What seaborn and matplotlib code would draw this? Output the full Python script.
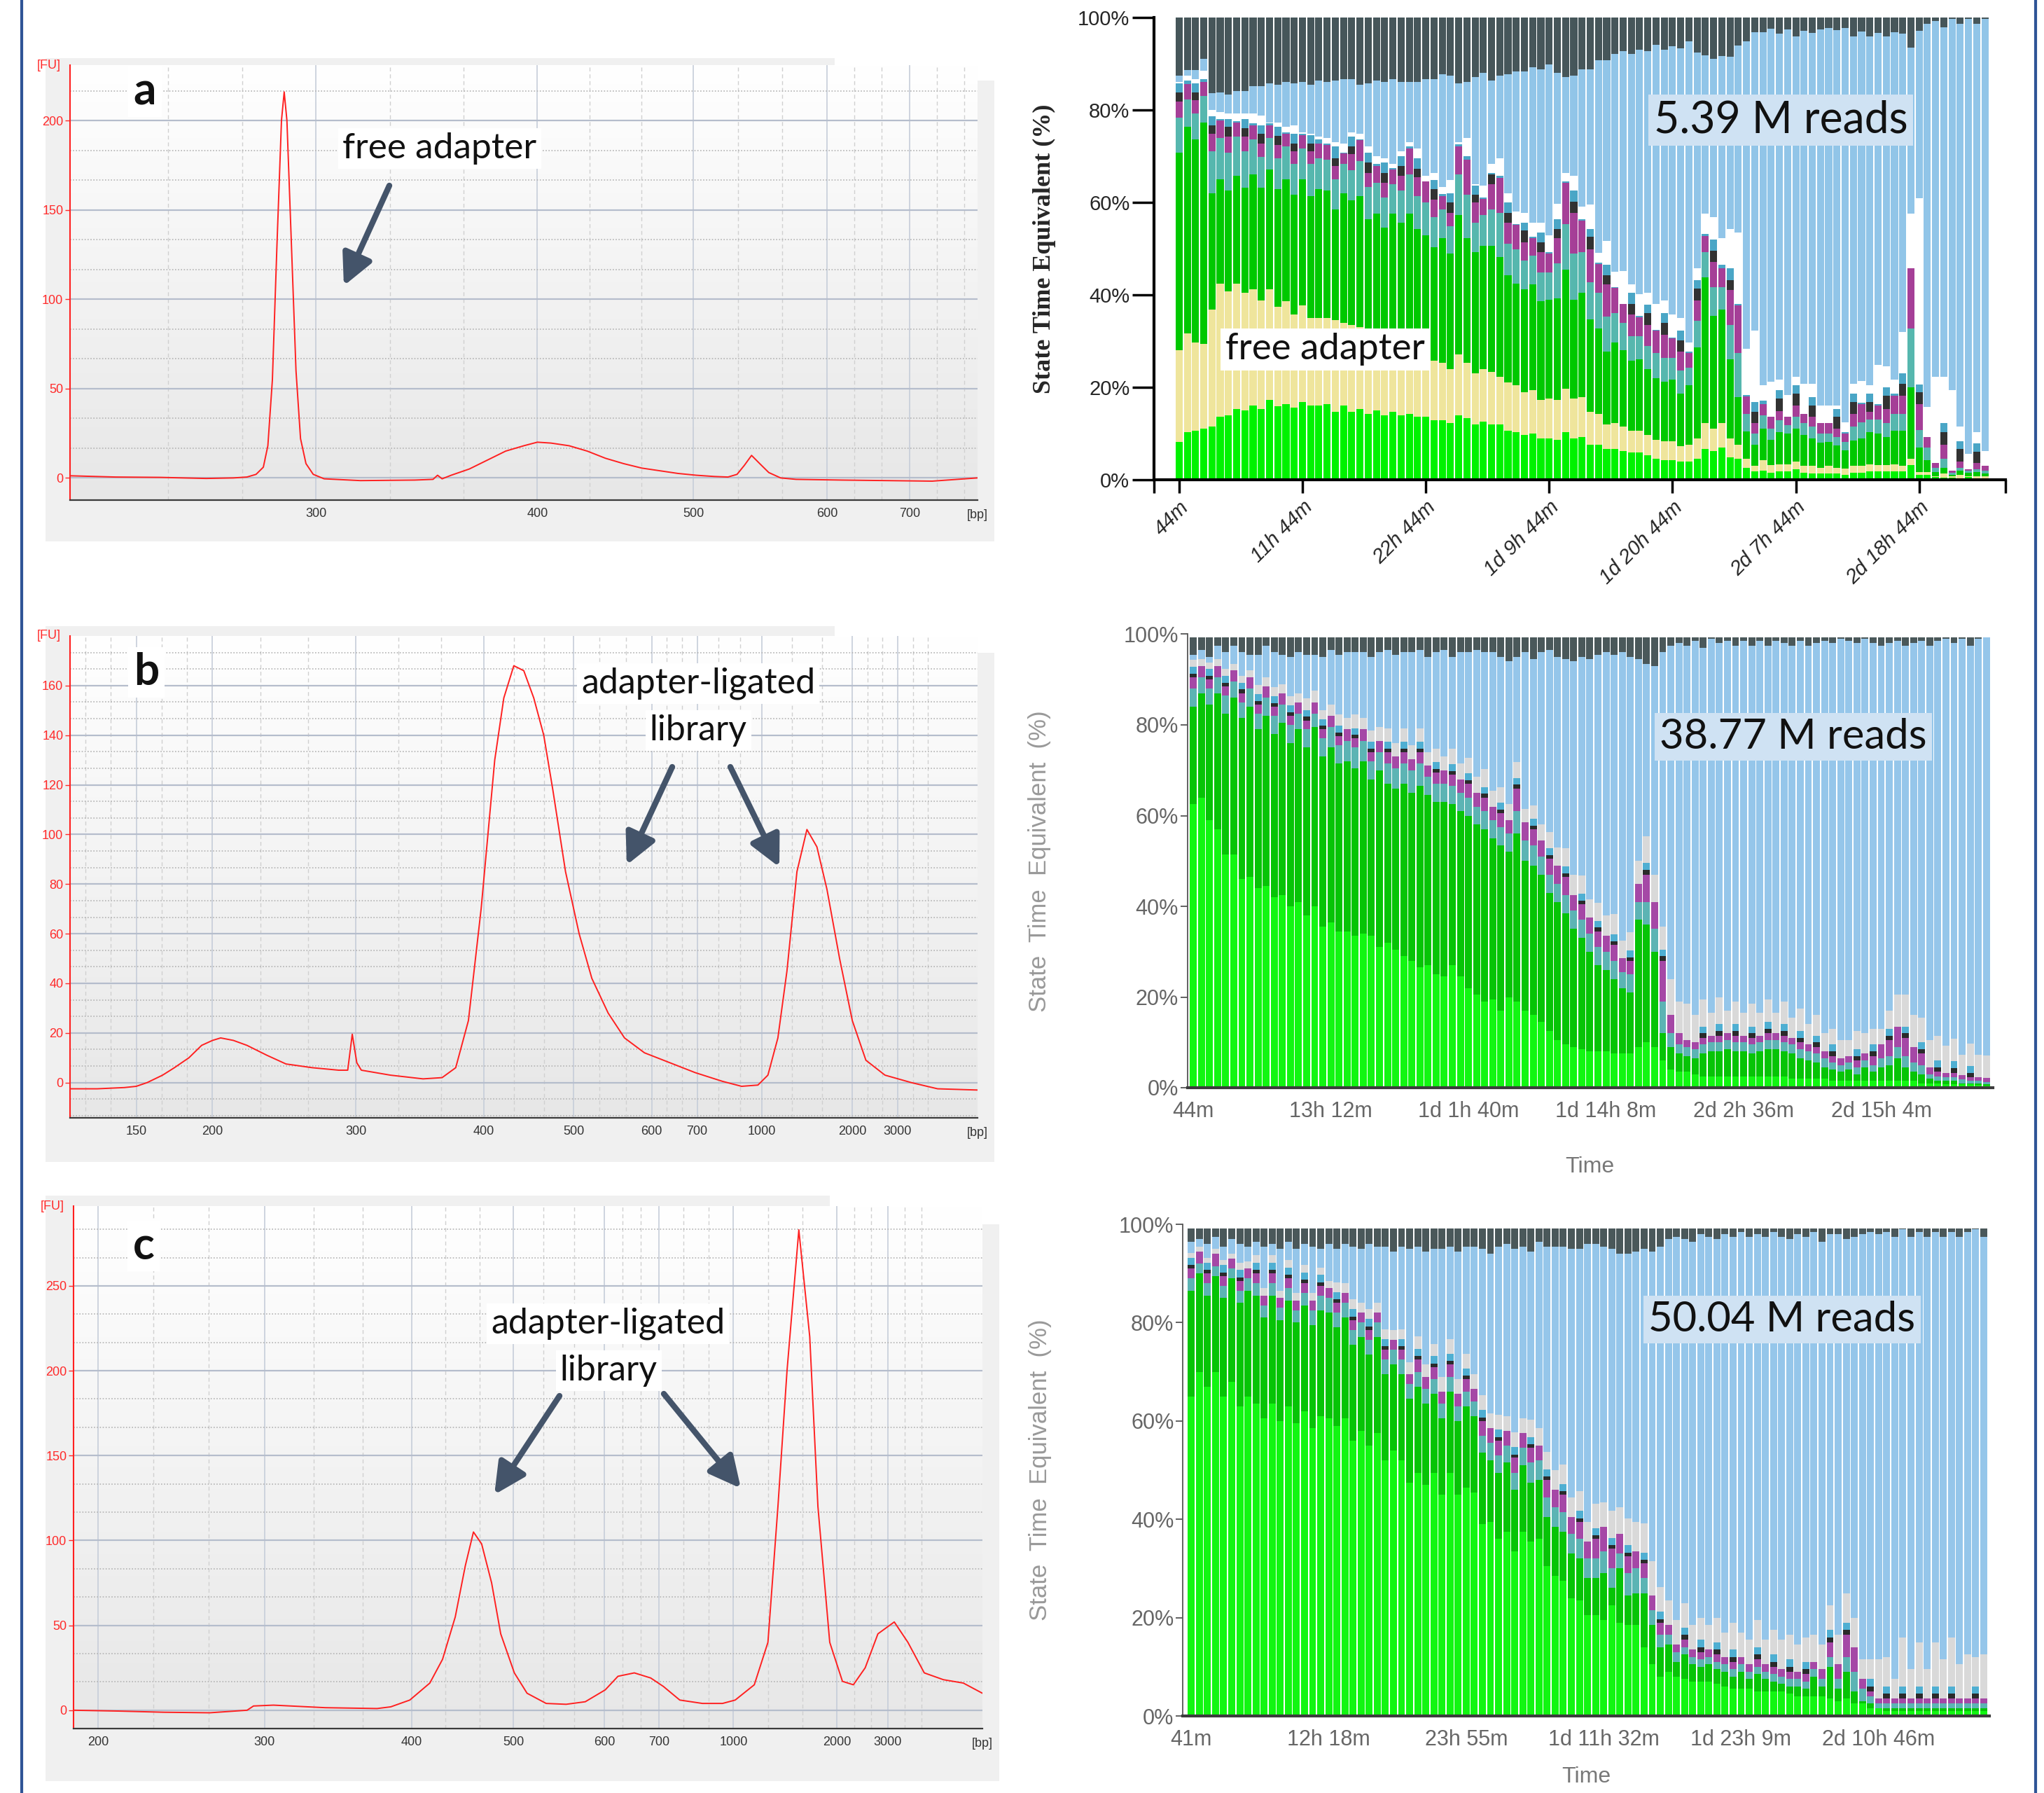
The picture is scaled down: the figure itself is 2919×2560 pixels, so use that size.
import matplotlib
matplotlib.use("Agg")
import matplotlib.pyplot as plt
import numpy as np
import seaborn as sns
from matplotlib import font_manager
from matplotlib.colors import LinearSegmentedColormap
from matplotlib.lines import Line2D
from matplotlib.patches import Rectangle

# ---------------- Bioanalyzer traces (x = migration position 0-100, ladder gives bp) ----------------
a_ladder_bp = [300, 400, 500, 600, 700]
a_ladder_t = [27.1, 51.5, 68.7, 83.4, 92.5]
a_t = [0, 5, 10, 15, 18, 19.5, 20.5, 21.3, 21.8, 22.3, 22.8, 23.3, 23.6, 23.9, 24.4, 24.9, 25.4, 26.0, 26.8, 28.0,
       32, 38, 40, 40.5, 41, 42, 44, 46, 48, 50, 51.5, 53, 55, 57, 59, 61, 63, 65, 67, 69,
       71, 72.5, 73.5, 74.3, 75.1, 76, 77, 78.3, 80, 85, 90, 95, 100]
a_fu = [1.2, 0.5, 0.3, -0.3, 0, 0.5, 2, 6, 18, 55, 130, 200, 216, 200, 130, 60, 22, 8, 2, -0.5,
        -1.5, -1.2, -0.8, 1.5, -0.5, 1.5, 5, 10, 15, 18, 20, 19.5, 18, 15, 11, 8, 5.5, 4, 2.5, 1.5,
        0.8, 0.5, 2, 7, 12.6, 8, 3, 0, -0.8, -1.2, -1.5, -1.8, 0]

b_ladder_bp = [150, 200, 300, 400, 500, 600, 700, 1000, 2000, 3000]
b_ladder_t = [7.3, 15.7, 31.5, 45.6, 55.5, 64.1, 69.1, 76.2, 86.2, 91.2]
b_t = [0, 3, 6, 7.3, 8.5, 10.2, 11.5, 13.1, 14.5, 15.7, 16.6, 18, 19.5, 21.7, 23.8, 26.7, 29.6, 30.6, 31.1, 31.6,
       32.1, 35.3, 38.9, 41, 42.5, 43.9, 45.3, 46.8, 47.8, 48.9, 50, 51.1, 52.2, 53.2, 54.6, 56.1, 57.5, 59.3, 61.1, 63.3,
       66.1, 68.9, 71.9, 74, 75.8, 76.9, 78, 79, 80.1, 81.2, 82.3, 83.4, 84.8, 86.2, 87.7, 89.8, 92.7, 95.6, 100]
b_fu = [-2.5, -2.5, -2, -1.5, 0, 3, 6, 10, 15, 17, 18, 17, 15, 11, 7.5, 6, 5, 5, 19.5, 8,
        5, 3, 1.5, 2, 6, 25, 70, 130, 155, 168, 166, 155, 140, 118, 85, 60, 42, 28, 18, 12,
        8, 4, 0.5, -1.5, -1, 3, 18, 45, 85, 102, 95, 78, 50, 25, 9, 3, 0, -2.5, -3]

c_ladder_bp = [200, 300, 400, 500, 600, 700, 1000, 2000, 3000]
c_ladder_t = [2.7, 21.0, 37.2, 48.4, 58.4, 64.4, 72.6, 84.0, 89.6]
c_t = [0, 5, 10, 15, 19.1, 19.8, 22, 27.7, 33.4, 34.9, 37, 39.2, 40.6, 42, 43.1, 44, 44.9, 46, 47, 48.5,
       49.9, 52, 54.2, 56.3, 58.5, 59.9, 61.7, 63.5, 64.9, 66.7, 69.2, 71.4, 72.8, 74.9, 76.4, 77.5, 78.5, 79.8, 81, 81.9,
       83.2, 84.6, 85.8, 87.1, 88.5, 90.3, 91.8, 93.6, 95.7, 97.9, 100]
c_fu = [0, -0.5, -1.2, -1.5, 0, 2.5, 3, 1.5, 1, 2, 6, 16, 30, 55, 85, 105, 98, 75, 45, 22,
        10, 4, 3.5, 5, 12, 20, 22, 19, 14, 6, 4, 4, 6, 15, 40, 120, 200, 283, 220, 120,
        40, 17, 15, 25, 45, 52, 40, 22, 18, 16, 10]

# ---------------- Panel a, right: pore state shares (%), cumulative layer tops ----------------
a_bg = [8.2, 10.3, 10.6, 11.0, 11.5, 13.6, 13.9, 15.3, 15.0, 16.0, 15.3, 17.2, 15.9, 16.3, 15.6, 16.8, 16.0, 16.0, 16.3, 14.7,
        16.0, 14.7, 15.3, 14.3, 15.0, 14.0, 14.7, 14.0, 14.3, 13.7, 13.7, 12.9, 12.9, 12.3, 13.9, 13.3, 12.0, 12.6, 12.0, 12.0,
        10.6, 10.3, 9.7, 10.0, 9.0, 9.0, 8.7, 10.3, 9.0,
        9.3, 7.6, 7.6, 6.6, 6.6, 6.2, 5.9, 5.9, 5.3, 4.6, 4.3, 4.3, 3.9, 3.9, 4.6, 6.6, 6.2, 6.9, 4.9, 4.6,
        2.6, 1.8, 2.0, 1.5, 1.8, 1.8, 2.2, 1.5, 1.3, 1.3, 1.3, 1.3, 1.1, 1.5, 1.5, 1.8, 1.8, 1.8, 1.8, 1.8,
        3.2, 1.0, 1.0, 0.6, 0.5, 0.5, 0.3, 0.6, 0.3, 0.3]
a_adapter = [28.1, 31.7, 29.7, 29.4, 36.8, 42.5, 40.7, 42.5, 40.4, 41.2, 38.8, 41.2, 37.5, 38.6, 35.8, 37.8, 35.0, 35.0, 35.0, 34.5,
             34, 33.5, 33, 32, 31.5, 30.5, 30, 29, 28.5, 27.5, 26.1, 25.8, 25.3, 24.0, 27.1, 25.3, 23.0, 24.0, 23.3, 22.3,
             21.0, 20.4, 18.9, 19.4, 17.3, 17.6, 17.3, 19.7, 17.6,
             17.9, 14.7, 14.3, 12.0, 12.3, 11.5, 10.6, 10.6, 9.7, 8.7, 8.3, 8.3, 7.2, 7.6, 9.0, 12.3, 11.0, 12.3, 8.9, 7.6,
             4.6, 3.0, 4.3, 3.2, 3.3, 3.3, 3.9, 3.0, 3.0, 2.6, 3.0, 2.6, 2.4, 3.0, 3.0, 3.3, 3.2, 3.2, 3.3, 3.0,
             4.6, 1.6, 1.6, 0.8, 1.3, 0.7, 1.0, 0.7, 0.7, 0.7]
a_dg = [70.8, 76.3, 73.6, 77.3, 62.0, 65.0, 62.5, 65.7, 63.2, 66.0, 63.2, 67.1, 62.9, 65.0, 61.7, 65.0, 61.4, 62.9, 62.5, 58.5,
        62.0, 60.4, 61.4, 56.3, 57.6, 54.6, 57.5, 55.6, 57.5, 54.3, 52.9, 50.3, 52.2, 48.9, 57.2, 52.2, 49.2, 50.6, 50.6, 48.2,
        44.2, 42.5, 41.2, 42.2, 38.6, 38.9, 39.2, 45.5, 38.9,
        40.4, 34.7, 32.7, 27.8, 29.7, 28.1, 25.8, 26.0, 23.9, 22.0, 21.2, 21.7, 18.6, 20.4, 28.7, 43.8, 35.5, 36.8, 26.1, 17.9,
        10.5, 7.6, 11.0, 8.7, 10.3, 10.0, 11.0, 9.7, 9.0, 8.0, 8.2, 7.4, 6.4, 8.5, 8.9, 10.3, 10.0, 9.3, 10.6, 10.6,
        20.0, 6.9, 4.3, 1.6, 2.6, 1.1, 2.0, 1.5, 1.6, 1.3]
a_teal = [78.4, 82.3, 79.2, 83.1, 71.1, 73.9, 70.7, 74.3, 71.0, 73.6, 69.9, 73.9, 69.6, 72.1, 68.3, 71.7, 68.3, 69.6, 69.3, 65.0,
          68.3, 67.0, 68.9, 63.3, 64.3, 61.0, 63.9, 62.5, 66.0, 61.4, 60.0, 56.8, 58.5, 54.9, 66.0, 61.7, 55.6, 57.2, 58.5, 57.8,
          51.0, 49.9, 47.5, 48.5, 44.9, 44.9, 46.8, 55.3, 48.9,
          49.2, 42.8, 40.4, 35.3, 36.1, 34.0, 31.1, 31.1, 28.9, 27.4, 26.4, 26.4, 23.7, 24.3, 34.4, 49.2, 41.7, 41.7, 33.5, 27.4,
          14.3, 10.0, 13.9, 11.0, 12.9, 11.8, 13.6, 12.3, 11.5, 10.0, 10.0, 9.2, 8.2, 11.5, 12.5, 13.1, 13.1, 12.3, 14.3, 14.3,
          32.7, 10.8, 6.9, 2.6, 4.6, 1.5, 2.6, 2.0, 2.3, 2.0]
a_mag = [81.8, 85.6, 82.1, 86.1, 74.9, 77.7, 74.3, 77.3, 74.3, 76.7, 72.7, 76.7, 72.4, 74.9, 71.1, 74.6, 71.1, 72.7, 72.4, 67.9,
         70.6, 70.4, 73.5, 66.3, 67.9, 64.3, 67.1, 65.7, 71.7, 65.4, 64.6, 60.6, 61.4, 57.8, 72.1, 69.3, 60.0, 60.7, 63.9, 65.3,
         55.6, 55.1, 51.4, 52.2, 49.2, 48.9, 52.2, 64.3, 57.8,
         56.0, 49.9, 46.6, 42.2, 41.5, 38.1, 35.8, 35.2, 33.5, 32.2, 31.3, 30.6, 27.8, 27.4, 38.8, 52.8, 47.1, 45.8, 41.1, 37.8,
         18.1, 12.3, 16.4, 13.6, 14.9, 13.6, 16.1, 14.3, 13.6, 12.2, 12.2, 11.0, 10.0, 14.3, 16.3, 14.7, 16.1, 15.3, 18.2, 18.2,
         45.7, 16.3, 9.2, 3.6, 7.6, 2.0, 3.9, 2.3, 3.6, 3.0]
a_black = [83.8, 85.6, 83.8, 86.1, 76.7, 77.7, 76.3, 77.3, 76.1, 76.7, 74.9, 76.7, 74.4, 74.9, 72.7, 74.6, 72.7, 72.7, 72.4, 69.6,
           70.6, 72.1, 73.5, 68.7, 67.9, 66.3, 67.1, 67.9, 71.7, 67.3, 64.6, 62.9, 61.4, 60.0, 72.1, 69.3, 61.7, 60.7, 66.0, 65.3,
           57.8, 55.1, 53.9, 52.2, 51.4, 48.9, 54.2, 64.3, 60.2,
           56.0, 52.6, 46.6, 44.2, 41.5, 38.1, 38.1, 35.2, 36.1, 32.2, 34.0, 30.6, 30.2, 27.4, 41.4, 52.8, 49.5, 45.8, 43.2, 37.8,
           18.1, 14.7, 16.4, 13.6, 17.6, 13.6, 18.6, 14.3, 16.0, 12.2, 12.2, 13.6, 10.0, 16.8, 16.3, 16.8, 16.1, 18.2, 18.2, 20.7,
           45.7, 18.9, 9.2, 3.6, 10.3, 2.0, 6.6, 2.3, 6.1, 3.0]
a_cyan = [85.7, 86.4, 85.7, 86.7, 78.7, 78.1, 78.1, 77.6, 78.1, 77.1, 76.7, 77.1, 76.3, 75.2, 74.9, 74.9, 74.6, 73.6, 72.7, 72.1,
          70.8, 74.3, 73.6, 70.8, 68.3, 68.7, 67.4, 70.0, 72.1, 69.6, 64.6, 64.9, 61.8, 62.0, 72.5, 70.0, 63.6, 61.0, 66.4, 65.7,
          60.0, 55.3, 55.6, 52.6, 53.5, 49.2, 56.3, 64.6, 62.5,
          56.3, 54.3, 47.0, 46.5, 41.7, 38.1, 40.4, 35.5, 37.9, 32.5, 36.1, 30.7, 32.2, 27.8, 43.2, 53.2, 51.9, 46.5, 45.8, 38.1,
          18.4, 16.8, 17.1, 13.6, 19.4, 13.6, 20.4, 14.3, 17.9, 12.2, 12.2, 15.3, 10.3, 18.6, 16.6, 18.6, 16.4, 20.0, 18.6, 23.0,
          45.7, 20.6, 9.2, 3.6, 12.3, 2.0, 8.3, 2.3, 7.9, 3.0]
a_white = [86.1, 87.4, 86.7, 88.5, 80.0, 79.6, 79.3, 79.3, 79.3, 79.3, 78.8, 77.3, 77.3, 76.4, 76.7, 75.2, 74.9, 74.2, 73.9, 73.1,
           72.7, 75.2, 74.9, 72.1, 70.0, 69.6, 68.3, 71.0, 73.1, 71.7, 65.7, 66.4, 63.3, 64.9, 73.1, 73.9, 63.9, 63.6, 68.3, 69.6,
           62.0, 58.1, 57.8, 55.6, 55.6, 52.9, 59.7, 66.4, 65.7,
           59.1, 59.5, 49.1, 51.6, 45.0, 45.1, 42.2, 40.1, 40.4, 38.1, 38.8, 35.8, 35.0, 29.7, 45.8, 57.6, 56.8, 52.2, 54.3, 53.5,
           28.3, 32.2, 20.4, 21.2, 21.7, 18.4, 22.3, 20.7, 20.7, 16.1, 16.1, 16.1, 12.5, 20.7, 21.4, 20.4, 24.8, 24.6, 21.7, 31.9,
           57.6, 60.9, 15.8, 22.3, 22.3, 19.4, 11.5, 5.6, 10.3, 6.2]
a_lblue = [87.5, 88.7, 88.7, 91.0, 83.6, 83.8, 83.4, 84.1, 84.1, 85.1, 85.1, 85.7, 85.4, 86.1, 85.7, 86.1, 85.4, 86.4, 86.1, 86.4,
           86.7, 86.7, 85.4, 85.7, 86.4, 86.1, 86.7, 86.1, 86.1, 86.1, 86.7, 86.7, 87.7, 87.4, 85.7, 86.1, 87.1, 88.0, 86.4, 87.4,
           87.7, 88.4, 88.4, 89.2, 88.8, 89.8, 88.1, 87.1, 87.4,
           88.8, 88.8, 90.7, 90.7, 92.1, 92.8, 92.1, 93.1, 92.8, 94.1, 93.1, 93.8, 93.4, 94.9, 92.4, 91.8, 91.1, 91.7, 91.5, 94.0,
           94.9, 96.8, 96.8, 97.6, 96.5, 97.4, 95.9, 97.1, 96.6, 97.4, 97.7, 97.2, 97.8, 95.9, 96.9, 95.9, 96.7, 95.9, 96.8, 96.5,
           93.5, 97.1, 98.6, 99.2, 97.9, 99.7, 98.6, 99.7, 98.6, 99.7]
a_total = 100.0
a_tick_bars = [0, 15, 30, 45, 60, 75, 90]
a_tick_labels = ["44m", "11h 44m", "22h 44m", "1d 9h 44m", "1d 20h 44m", "2d 7h 44m", "2d 18h 44m"]

# ---------------- Panel b, right: main layer tops + small-layer thicknesses (%) ----------------
b_bg = [62.5, 64, 59, 57, 51.5, 51.5, 46, 46.5, 44, 44.5, 42, 42.5, 40, 41, 38, 40, 35.5, 36.5, 34.5, 34.5,
        33.5, 34, 33.5, 31, 32, 30.5, 29, 28, 26.5, 27, 25, 24.5, 27, 24.5, 22, 20.5, 19, 19.5, 17, 20,
        19, 17, 16, 14.5, 12.5, 10.5, 9.5, 9, 8.5, 8, 8, 8, 7.5, 7.5, 7.5, 9, 10, 9, 6, 4,
        3.5, 3.5, 3, 2.5, 2.5, 2.5, 2.5, 2.5, 2.5, 2.5, 2.5, 2.5, 2.5, 2.5, 2, 2, 2, 2, 2, 1.5,
        1.5, 1.5, 1.5, 1.5, 1.5, 1.5, 1.5, 1.5, 1.5, 1.5, 1, 1, 1, 0.8, 0.8, 0.8, 0.8, 0.6, 0.5]
b_dg = [84, 87, 84.5, 87, 82.5, 86, 81.5, 84, 79, 82, 78, 80.5, 76, 79, 75, 79.5, 73, 75, 71.5, 72,
        70.5, 72, 68, 70, 67, 66, 67, 65, 66.5, 64.5, 63, 63, 62.5, 61, 60, 58, 57, 55, 53.5, 52,
        56, 50, 49, 47, 43, 41, 38.5, 35, 33, 30, 27, 26, 24, 22, 21, 37, 36, 30, 12, 9,
        7.5, 7, 6.5, 7.5, 8, 8, 8.5, 8, 8, 7.5, 8, 8.5, 8.5, 8, 7.5, 6.5, 6, 5.5, 4.5, 4,
        3.5, 4, 3, 4.5, 3.5, 4.5, 5, 6.5, 4.5, 3.5, 3, 2, 1.5, 1.5, 1.5, 1, 1, 1, 0.8]
b_teal = [4, 3.5, 3.5, 3.5, 4, 3.5, 3.5, 4, 3.5, 4, 4, 4, 4, 3.5, 4, 3, 4, 4.5, 4, 4.5,
          4.5, 4.5, 4, 4, 4.5, 4.5, 4.5, 5, 5, 4, 4, 4, 4, 4, 4, 4, 4, 4, 4, 4,
          5, 4.5, 4.5, 4, 4, 4, 4, 4, 4, 4, 4, 4, 4, 3.5, 4, 4, 5, 5, 7, 3,
          2, 2, 2, 2, 2, 2, 2, 2, 2, 2, 2, 2, 2, 2, 2, 2, 2, 2, 2, 1.5,
          1.5, 1.5, 1.5, 1.5, 1.5, 2, 2, 2.5, 2.5, 2, 2, 1, 1, 0.8, 0.8, 0.8, 0.5, 0.5, 0.5]
b_mag = [2.5, 2.5, 2, 2.5, 2, 2.5, 2, 2.5, 2, 2.5, 2, 2.5, 2, 2.5, 2, 2.5, 2, 2.5, 2, 2.5,
         2, 2.5, 2, 2.5, 2.5, 2.5, 2.5, 2.5, 2.5, 2.5, 2.5, 3, 2.5, 3, 3, 3, 3, 3, 3, 3,
         5, 4, 3.5, 3.5, 3.5, 4, 4, 3.5, 3.5, 3.5, 3.5, 3.5, 3.5, 3, 3, 4, 6, 6, 9, 4,
         2.5, 1.5, 1.5, 1.5, 1.5, 1.5, 1.5, 1.5, 1.5, 1.5, 1.5, 1.5, 1.5, 1.5, 1.5, 1.5, 1.5, 1.5, 1.5, 1.5,
         1.5, 1.5, 1.5, 1.5, 2, 3, 3.5, 4.5, 4, 3.5, 2.5, 1.5, 1, 1, 1, 1, 0.8, 0.8, 0.8]
b_black = [0.8, 0, 0.8, 0, 0.8, 0, 0.8, 0, 0.8, 0, 0.8, 0, 0.8, 0, 0.8, 0, 0.8, 0, 0.8, 0,
           0.8, 0, 0.8, 0, 0.8, 0, 0.8, 0, 0.8, 0, 0.8, 0, 0.8, 0, 0.8, 0, 0.8, 0, 0.8, 0,
           0.8, 0, 0.8, 0, 0.8, 0, 0.8, 0, 0.8, 0, 0.8, 0, 0.8, 0, 0.8, 0, 1, 0, 1, 0,
           0, 0, 0, 1, 0, 1, 0, 1, 0, 1, 0, 1, 0, 1, 0, 1, 0, 1, 0, 1,
           0, 0, 1, 0, 1, 0, 1, 0, 1, 0, 1, 0, 1, 0, 1, 0, 1, 0, 0]
b_cyan = [1.5, 0, 1.5, 0, 1.5, 0, 1.5, 0, 1.5, 0, 1.5, 0, 1.5, 0, 1.5, 0, 1.5, 0, 1.5, 0,
          1.5, 0, 1.5, 0, 1.5, 0, 1.5, 0, 1.5, 0, 1.5, 0, 1.5, 0, 1.5, 0, 1.5, 0, 1.5, 0,
          1.5, 0, 1.5, 0, 1.5, 0, 1.5, 0, 1.5, 0, 1.5, 0, 1.5, 0, 1.5, 0, 1.5, 0, 1.5, 0,
          0, 0, 0, 1.5, 0, 1.5, 0, 1.5, 0, 1.5, 0, 1.5, 0, 1.5, 0, 1.5, 0, 1.5, 0, 1.5,
          0, 0, 1.5, 0, 1.5, 0, 1.5, 0, 1.5, 0, 1.5, 0, 1.5, 0, 1.5, 0, 1.5, 0, 0]
b_lgray = [1.5, 1.5, 1.5, 1.5, 1.5, 1.5, 1.5, 1.5, 2, 2, 2, 2, 2, 2, 2.5, 2.5, 2, 2.5, 2.5, 2.5,
           3, 2.5, 2.5, 3, 3, 3, 3, 3, 3, 3, 3, 3, 3.5, 3.5, 3.5, 3.5, 4, 3.5, 3.5, 3.5,
           3.5, 3, 3, 3.5, 3.5, 4, 4, 4.5, 4, 4, 4, 4.5, 4.5, 4, 4, 5, 6, 6, 5, 8,
           7, 8, 6, 6, 5, 6, 5, 5, 5, 5, 5, 5, 4.5, 5, 4.5, 5, 4.5, 4.5, 4, 3.5,
           4, 3.5, 4, 4.5, 3.5, 3.5, 4, 7, 7, 7, 5.5, 6, 5.5, 6, 5, 4.5, 5, 5, 5]
b_dk = [95.5, 96.5, 95, 97.5, 96, 97.5, 96, 95.5, 95.5, 97.5, 96, 95.5, 95, 96, 95.5, 95.5, 95, 96.5, 95.5, 96,
        96, 96, 95, 96, 96.5, 95.5, 96, 96, 96.5, 95, 96, 96.5, 95, 96, 96, 96.5, 96, 96, 95, 94,
        95, 96, 94.5, 96, 96.5, 95, 94.5, 94, 95, 94.5, 95.5, 96, 95.5, 96, 95, 94.5, 93.5, 93, 96, 97.5,
        98, 97.5, 98.5, 97, 99, 98, 98.5, 97.5, 98.5, 97.5, 98.5, 97.5, 98.5, 98, 97.5, 98.5, 97.5, 98, 98.5, 98,
        99, 98.5, 98, 99, 98, 97.5, 98, 98.5, 97.5, 98, 98.5, 97.5, 98.5, 99, 98, 99, 97.5, 99, 99.3]
b_total = 99.3
b_tick_bars = [0, 17, 34, 51, 68, 85]
b_tick_labels = ["44m", "13h 12m", "1d 1h 40m", "1d 14h 8m", "2d 2h 36m", "2d 15h 4m"]

# ---------------- Panel c, right ----------------
c_bg = [65, 70, 67, 70, 65, 68, 63, 65, 63.5, 60.5, 63.5, 60, 63, 59.5, 62, 58.5, 61, 60.5, 59, 60.5,
        56, 58, 55, 57.5, 52, 54, 52, 47.5, 49.5, 47, 49.5, 45, 49.5, 45, 46.5, 45.5, 39, 39.5, 36, 37.5,
        33.5, 37.5, 35.5, 36, 30.5, 28.5, 27.5, 24, 23.5, 20.5, 20.5, 19.5, 22.5, 19, 18.5, 18.5, 14, 10.5, 8, 9,
        8, 7.5, 7, 7, 7, 6.5, 6, 5.5, 5.5, 5.5, 5, 5, 5, 5, 4.5, 4, 4, 4, 4, 3.5,
        3, 3.5, 2.5, 2.5, 1.5, 1.5, 1, 1, 1, 1, 1, 1, 1, 1, 1, 1, 1, 1, 1]
c_dg = [86.5, 90, 85.5, 89.5, 85, 89, 84, 86.5, 85.5, 81, 85.5, 80.5, 84.5, 80, 83.5, 79.5, 82.5, 82, 79, 81,
        75.5, 77, 73.5, 77, 69.5, 71.5, 69.5, 64.5, 67, 63.5, 65.5, 60.5, 66, 60, 63, 61, 53.5, 52, 49.5, 51.5,
        46, 51, 47.5, 48, 40.5, 38.5, 37.5, 33, 32, 28, 28, 29, 26, 30, 24.5, 25, 25, 18.5, 14, 14.5,
        11, 12.5, 10.5, 10, 10.5, 9.5, 9, 8, 9, 7.5, 8.5, 7.5, 7, 6.5, 6, 6, 5.5, 8, 6, 10,
        5.5, 9, 5, 3, 2.5, 1.5, 1.5, 1.5, 1.5, 1.5, 1.5, 1.5, 1.5, 1.5, 1.5, 1.5, 1.5, 1.5, 1.5]
c_teal = [2.5, 2, 2.5, 2, 2.5, 2, 2.5, 2.5, 2.5, 2.5, 2.5, 2.5, 2.5, 2.5, 2.5, 3, 3, 3, 3, 3,
          3, 3, 3, 3, 3, 3, 3, 3, 3, 3, 3, 3, 3, 3, 3, 3, 3.5, 3.5, 3.5, 3.5,
          3.5, 3.5, 4, 4, 4, 4, 4, 4, 4, 4, 4, 4.5, 4, 3, 4.5, 5, 3, 3, 2.5, 2,
          2, 1.5, 1.5, 1.5, 1.5, 1.5, 1.5, 1.5, 1.5, 1.5, 1.5, 1.5, 1.5, 1.5, 1.5, 1.5, 1.5, 1.5, 1.5, 2,
          2, 3, 4, 2.5, 1.5, 1, 1, 1, 1, 1, 1, 1, 1, 1, 1, 1, 1, 1, 1]
c_mag = [2, 2.5, 2, 2.5, 2, 2, 2, 2, 2, 2, 2, 2, 2, 2, 2, 2, 2, 2, 2, 2,
         2, 2, 2, 2, 2, 2, 2, 2, 2.5, 2.5, 2.5, 2.5, 2.5, 2.5, 2.5, 2.5, 3, 3, 3, 3,
         3, 3, 3, 3, 3.5, 3.5, 3.5, 3.5, 3.5, 3.5, 4, 5, 4, 4, 3.5, 3.5, 3, 3, 2.5, 2,
         1.5, 1.5, 1.5, 1.5, 1.5, 1.5, 1.5, 1.5, 1.5, 1.5, 1.5, 1.5, 1.5, 1.5, 1.5, 1.5, 1.5, 1.5, 2, 3,
         3, 4.5, 5, 2, 1, 1, 1, 1, 1, 1, 1, 1, 1, 1, 1, 1, 1, 1, 1]
c_black = [0.7, 0, 0.7, 0, 0.7, 0, 0.7, 0, 0.7, 0, 0.7, 0, 0.7, 0, 0.7, 0, 0.7, 0, 0.7, 0,
           0.7, 0, 0.7, 0, 0.7, 0, 0.7, 0, 0.7, 0, 0.7, 0, 0.7, 0, 0.7, 0, 0.7, 0, 0.7, 0,
           0.7, 0, 0.7, 0, 0.7, 0, 0.7, 0, 0.7, 0, 0.7, 0, 0.7, 0, 0.7, 0, 0.7, 0, 0.7, 0,
           0, 1, 0, 1, 0, 1, 0, 1, 0, 0, 1, 0, 1, 0, 1, 0, 1, 0, 0, 1,
           0, 1, 0, 0, 1, 0, 1, 0, 1, 0, 1, 0, 1, 0, 1, 0, 0, 1, 0]
c_cyan = [1.5, 0, 1.5, 0, 1.5, 0, 1.5, 0, 1.5, 0, 1.5, 0, 1.5, 0, 1.5, 0, 1.5, 0, 1.5, 0,
          1.5, 0, 1.5, 0, 1.5, 0, 1.5, 0, 1.5, 0, 1.5, 0, 1.5, 0, 1.5, 0, 1.5, 0, 1.5, 0,
          1.5, 0, 1.5, 0, 1.5, 0, 1.5, 0, 1.5, 0, 1.5, 0, 1.5, 0, 1.5, 0, 1.5, 0, 1.5, 0,
          0, 1.5, 0, 1.5, 0, 1.5, 0, 1.5, 0, 0, 1.5, 0, 1.5, 0, 1.5, 0, 1.5, 0, 0, 1.5,
          0, 1.5, 0, 0, 1.5, 0, 1.5, 0, 1.5, 0, 1.5, 0, 1.5, 0, 1.5, 0, 0, 1.5, 0]
c_lgray = [1, 1, 1, 1, 1, 1, 1.5, 1.5, 1.5, 1.5, 1.5, 1.5, 1.5, 1.5, 1.5, 1.5, 1.5, 1.5, 2, 2,
           2, 2, 2, 2, 2, 2, 2, 2.5, 2.5, 2.5, 2.5, 3, 3, 3, 3, 3, 3, 3, 3, 3,
           3, 3, 3.5, 3.5, 3.5, 4, 4, 4, 4, 4, 5, 5, 5.5, 5.5, 5.5, 6, 6, 7, 5, 5,
           5, 5, 5, 4.5, 5, 5, 5, 5.5, 5, 5, 5.5, 5, 5, 6, 5, 5.5, 5, 5.5, 5, 5,
           6, 6, 6, 4, 4, 8, 6, 4, 10, 6, 9, 6, 9, 8, 10, 7, 9, 6, 9]
c_dk = [96.5, 97, 96, 97.5, 95.5, 97, 96, 95.5, 96.5, 95.5, 96, 95, 96.5, 95, 96, 95.5, 95, 96, 95, 96,
        95.5, 95, 96, 95.5, 95.5, 94.5, 95.5, 95, 95.5, 94.5, 95, 95, 95.5, 94.5, 95.5, 95.5, 95, 94, 95.5, 96,
        95, 95.5, 94.5, 96.5, 95.5, 95.5, 95.5, 95, 95, 96, 96, 95.5, 95, 94, 94, 94.5, 95, 94.5, 95.5, 97,
        97.5, 97, 96.5, 98, 97.5, 97, 98, 97.5, 98.5, 97.5, 98, 97.5, 98.5, 97.5, 97, 98, 97.5, 98.5, 96.5, 98,
        98, 97, 97.5, 98, 98.5, 98, 98.5, 97.5, 99, 97.5, 98.5, 97.5, 98.5, 97.5, 98.5, 97.5, 98.5, 99, 97.5]
c_total = 99.2
c_tick_bars = [0, 17, 34, 51, 68, 85]
c_tick_labels = ["41m", "12h 18m", "23h 55m", "1d 11h 32m", "1d 23h 9m", "2d 10h 46m"]

for arr in (a_bg, a_adapter, a_dg, a_teal, a_mag, a_black, a_cyan, a_white, a_lblue, b_bg, b_dg, b_teal, b_mag,
            b_black, b_cyan, b_lgray, b_dk, c_bg, c_dg, c_teal, c_mag, c_black, c_cyan, c_lgray, c_dk):
    assert len(arr) == 99, len(arr)

A_COLORS = ["#00f200", "#efe59c", "#00c800", "#56b7ae", "#a53f97", "#323232", "#4aa6c6", "#ffffff", "#91c5e8", "#46565a"]
BC_COLORS = ["#12f612", "#06c406", "#5cb4b4", "#a548a6", "#2a2a2a", "#4fafd2", "#d9d9d9", "#95c6ea", "#4a585a"]

sns.set_theme(style="white")
names = {f.name for f in font_manager.fontManager.ttflist}
NARROW = "Liberation Sans Narrow" if "Liberation Sans Narrow" in names else "Liberation Sans"
plt.rcParams["font.family"] = ["Liberation Sans", "DejaVu Sans"]
ANNOT = ["Lato", "DejaVu Sans"]

W, H = 2919, 2560
fig = plt.figure(figsize=(W / 100, H / 100), dpi=100, facecolor="white")


def add_axes_px(x0, y0, x1, y1):
    return fig.add_axes([x0 / W, 1 - y1 / H, (x1 - x0) / W, (y1 - y0) / H])


def rect_px(x0, y0, x1, y1, color, z=-5):
    fig.patches.append(Rectangle((x0 / W, 1 - y1 / H), (x1 - x0) / W, (y1 - y0) / H,
                                 transform=fig.transFigure, facecolor=color, edgecolor="none", zorder=z))


def trace_panel(ax, t, fu, lad_bp, lad_t, ylim, yticks):
    fade = LinearSegmentedColormap.from_list("fade", ["#ffffff", "#e7e7e7"])
    ax.imshow(np.linspace(0, 1, 256).reshape(-1, 1), cmap=fade, aspect="auto",
              extent=(0, 1, 0, 1), transform=ax.transAxes, zorder=0)
    step = yticks[1] - yticks[0]
    ax.set_yticks(yticks)
    ax.set_yticks(np.arange(yticks[0] - step, ylim[1], step / 3), minor=True)
    lt = np.asarray(lad_t)
    edges = np.r_[2 * lt[0] - lt[1], lt, 2 * lt[-1] - lt[-2]]
    minor_x = [a + (b - a) * k / 3 for a, b in zip(edges[:-1], edges[1:]) for k in (1, 2)]
    ax.set_xticks(lt)
    ax.set_xticklabels([str(b) for b in lad_bp])
    ax.set_xticks([m for m in minor_x if 0 < m < 100], minor=True)
    ax.set_axisbelow(True)
    ax.grid(which="major", axis="y", color="#b5bdcc", lw=1.6)
    ax.grid(which="minor", axis="y", color="#b3b3b3", lw=1.2, ls=(0, (1, 1.5)))
    ax.grid(which="major", axis="x", color="#c6cdd9", lw=1.2)
    ax.grid(which="minor", axis="x", color="#d0d0d0", lw=1.0, ls=(0, (4, 3)))
    sns.lineplot(x=t, y=fu, color="#ff2020", lw=1.4, estimator=None, sort=False, ax=ax, zorder=3)
    ax.set_xlim(0, 100)
    ax.set_ylim(*ylim)
    ax.set_xlabel("")
    ax.set_ylabel("")
    for s in ("top", "right"):
        ax.spines[s].set_visible(False)
    ax.spines["left"].set_color("#ff2020")
    ax.spines["left"].set_linewidth(1.5)
    ax.spines["bottom"].set_color("#3a3a3a")
    ax.spines["bottom"].set_linewidth(1.6)
    ax.tick_params(axis="y", which="major", colors="#ff2a2a", length=5, width=1, labelsize=13, pad=2, left=True)
    ax.tick_params(axis="x", which="major", length=0, labelsize=13, labelcolor="#333333", pad=8, bottom=True)
    ax.tick_params(which="minor", length=0)
    for lab in ax.get_xticklabels() + ax.get_yticklabels():
        lab.set_fontfamily(NARROW)
    ax.text(-0.01, 1.0, "[FU]", transform=ax.transAxes, color="#ff2a2a", ha="right", va="center",
            fontsize=13, fontfamily=NARROW)
    ax.annotate("[bp]", xy=(1, 0), xycoords="axes fraction", xytext=(0, -21), textcoords="offset pixels",
                ha="center", va="center", fontsize=13, color="#333333", fontfamily=NARROW)


def state_bars(ax, tops, colors, xlim, total):
    tops = np.maximum.accumulate(np.vstack(tops), axis=0)
    tops = np.minimum(tops, total)
    idx = np.arange(tops.shape[1])
    for top, col in zip(tops[::-1], colors[::-1]):
        sns.barplot(x=idx, y=top, color=col, width=0.86, saturation=1, errorbar=None, linewidth=0, ax=ax)
    ax.set_xlim(*xlim)
    ax.set_ylim(0, 100)
    ax.set_xlabel("")
    ax.set_ylabel("")
    ax.set_yticks(range(0, 101, 20))
    ax.set_yticklabels([f"{v}%" for v in range(0, 101, 20)])
    for s in ("top", "right"):
        ax.spines[s].set_visible(False)


# ---------- figure frames ----------
rect_px(65, 83, 1420, 773, "#f0f0f0")
rect_px(1192, 80, 1425, 115, "#ffffff", z=-4)
rect_px(65, 894, 1420, 1659, "#f0f0f0")
rect_px(1192, 890, 1425, 932, "#ffffff", z=-4)
rect_px(65, 1707, 1427, 2543, "#f0f0f0")
rect_px(1185, 1700, 1430, 1748, "#ffffff", z=-4)
for xb in (31, 2907):
    fig.add_artist(Line2D([xb / W, xb / W], [0, 1], transform=fig.transFigure, color="#2f5496", lw=3))

# ---------- left traces ----------
ax_la = add_axes_px(100, 93, 1396, 714)
trace_panel(ax_la, a_t, a_fu, a_ladder_bp, a_ladder_t, (-12.4, 231), [0, 50, 100, 150, 200])
ax_lb = add_axes_px(100, 908, 1396, 1596)
trace_panel(ax_lb, b_t, b_fu, b_ladder_bp, b_ladder_t, (-14.2, 180), [0, 20, 40, 60, 80, 100, 120, 140, 160])
ax_lc = add_axes_px(105, 1722, 1403, 2468)
trace_panel(ax_lc, c_t, c_fu, c_ladder_bp, c_ladder_t, (-10.8, 297), [0, 50, 100, 150, 200, 250])

# ---------- right a ----------
ax_ra = add_axes_px(1648, 25, 2864, 685)
state_bars(ax_ra, [a_bg, a_adapter, a_dg, a_teal, a_mag, a_black, a_cyan, a_white, a_lblue, [a_total] * 99],
           A_COLORS, (-3.05, 100.5), a_total)
ax_ra.set_xticks(a_tick_bars)
ax_ra.set_xticklabels(a_tick_labels, rotation=45, ha="right", rotation_mode="anchor", fontstyle="italic")
ax_ra.set_xticks([-3.05, 100.5], minor=True)
for s in ("left", "bottom"):
    ax_ra.spines[s].set_color("black")
    ax_ra.spines[s].set_linewidth(3)
ax_ra.tick_params(axis="y", length=22, width=2.5, direction="out", labelsize=21, color="black", left=True, pad=3)
ax_ra.tick_params(axis="x", which="both", length=14, width=2.5, direction="out", labelsize=21, color="black",
                  bottom=True, pad=4)
ax_ra.set_ylabel("State Time Equivalent (%)", fontfamily=["Liberation Serif", "DejaVu Serif"], fontweight="bold",
                 fontsize=26)
ax_ra.yaxis.set_label_coords(-0.115, 0.5)


def style_bc(ax, ylab_x, time_y):
    ax.spines["left"].set_color("#555555")
    ax.spines["left"].set_linewidth(1.3)
    ax.spines["bottom"].set_color("#3c3c3c")
    ax.spines["bottom"].set_linewidth(3)
    ax.tick_params(axis="y", length=7, width=1.3, color="#555555", labelcolor="#666666", labelsize=22, left=True, pad=2)
    ax.tick_params(axis="x", length=0, labelcolor="#666666", labelsize=22, pad=14)
    for lab in ax.get_xticklabels() + ax.get_yticklabels():
        lab.set_fontfamily(NARROW)
    ax.set_ylabel("State  Time  Equivalent  (%)", color="#999999", fontsize=25)
    ax.yaxis.set_label_coords(ylab_x, 0.5)
    ax.set_xlabel("Time", color="#777777", fontsize=23, fontfamily=NARROW)
    ax.xaxis.set_label_coords(0.5, time_y)


def bc_tops(bg, dg, teal, mag, black, cyan, lgray, dk, total):
    t1 = np.asarray(dg) + np.asarray(teal)
    t2 = t1 + np.asarray(mag)
    t3 = t2 + np.asarray(black)
    t4 = t3 + np.asarray(cyan)
    t5 = t4 + np.asarray(lgray)
    return [bg, dg, t1, t2, t3, t4, t5, dk, [total] * len(bg)]


ax_rb = add_axes_px(1695.5, 905.5, 2846, 1553)
state_bars(ax_rb, bc_tops(b_bg, b_dg, b_teal, b_mag, b_black, b_cyan, b_lgray, b_dk, b_total), BC_COLORS,
           (-0.75, 98.8), b_total)
ax_rb.set_xticks(b_tick_bars)
ax_rb.set_xticklabels(b_tick_labels)
style_bc(ax_rb, -0.169, -0.151)

ax_rc = add_axes_px(1688.9, 1748, 2841, 2450)
state_bars(ax_rc, bc_tops(c_bg, c_dg, c_teal, c_mag, c_black, c_cyan, c_lgray, c_dk, c_total), BC_COLORS,
           (-1.07, 98.7), c_total)
ax_rc.set_xticks(c_tick_bars)
ax_rc.set_xticklabels(c_tick_labels)
style_bc(ax_rc, -0.162, -0.102)

# ---------- annotations ----------
def ftext(x, y, s, size, box=None, weight="normal"):
    kw = {}
    if box:
        kw["bbox"] = dict(boxstyle="square,pad=0.12", fc=box, ec="none")
    fig.text(x / W, 1 - y / H, s, ha="center", va="center", fontsize=size, fontfamily=ANNOT,
             fontweight=weight, color="#111111", **kw)


def farrow(x0, y0, x1, y1):
    fig.add_artist(plt.Annotation("", xy=(x1, H - y1), xycoords="figure pixels",
                                  xytext=(x0, H - y0), textcoords="figure pixels",
                                  arrowprops=dict(arrowstyle="-|>,head_length=0.9,head_width=0.45", lw=6,
                                                  color="#44546a", shrinkA=0, shrinkB=0, mutation_scale=30)))


ftext(207, 131, "a", 46, box="#ffffff", weight="bold")
ftext(209, 960, "b", 46, box="#ffffff", weight="bold")
ftext(205, 1779, "c", 46, box="#ffffff", weight="bold")

ftext(628, 212, "free adapter", 37, box="#ffffff")
farrow(556, 265, 491, 408)

ftext(997, 976, "adapter-ligated", 36, box="#ffffff")
ftext(997, 1043, "library", 36, box="#ffffff")
farrow(960, 1095, 895, 1235)
farrow(1043, 1095, 1113, 1238)

ftext(868, 1890, "adapter-ligated", 36, box="#ffffff")
ftext(869, 1957, "library", 36, box="#ffffff")
farrow(799, 1993, 706, 2134)
farrow(948, 1990, 1058, 2125)

ftext(1892, 499, "free adapter", 38, box="#ffffff")
ftext(2543, 171, "5.39 M reads", 45, box="#cfe2f3")
ftext(2561, 1052, "38.77 M reads", 43, box="#cfe2f3")
ftext(2545, 1884, "50.04 M reads", 43, box="#cfe2f3")

fig.savefig("out.png", dpi=100, facecolor="white")
